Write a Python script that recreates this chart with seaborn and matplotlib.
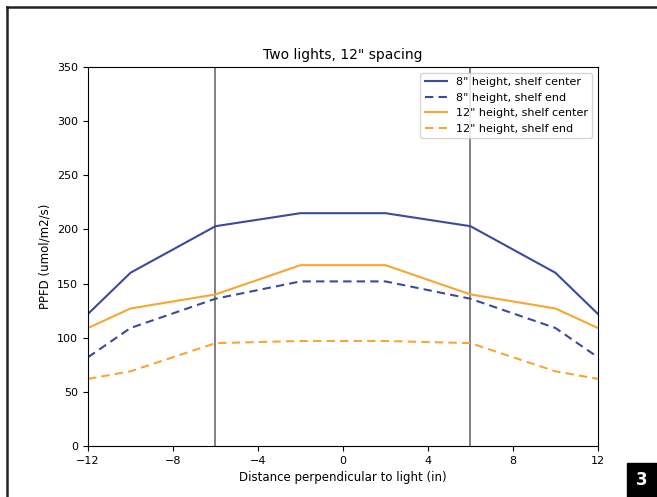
import numpy as np
import pandas as pd
import seaborn as sns
from matplotlib import pyplot as plt
from matplotlib.lines import Line2D
from matplotlib.patches import Rectangle

distance = [-12, -10, -6, -2, 2, 6, 10, 12]
center_8 = [122, 160, 203, 215, 215, 203, 160, 122]
end_8 = [82, 109, 136, 152, 152, 136, 109, 82]
center_12 = [109, 127, 140, 167, 167, 140, 127, 109]
end_12 = [62, 69, 95, 97, 97, 95, 69, 62]
series_names = [
    '8" height, shelf center',
    '8" height, shelf end',
    '12" height, shelf center',
    '12" height, shelf end',
]
light_positions = [-6, 6]

rows = []
for name, vals in zip(series_names, [center_8, end_8, center_12, end_12]):
    for x, y in zip(distance, vals):
        rows.append({"distance": x, "ppfd": y, "series": name})
df = pd.DataFrame(rows)

blue = "#3b4a9c"
orange = "#f7a634"
palette = {series_names[0]: blue, series_names[1]: blue,
           series_names[2]: orange, series_names[3]: orange}
dashes = {series_names[0]: "", series_names[1]: (4, 2.5),
          series_names[2]: "", series_names[3]: (4, 2.5)}

fig = plt.figure(figsize=(6.57, 4.97), dpi=100)
ax = fig.add_axes([0.134, 0.1026, 0.776, 0.7626])

for xv in light_positions:
    ax.axvline(xv, color="#777777", lw=1.3, zorder=1)

sns.lineplot(data=df, x="distance", y="ppfd", hue="series", style="series",
             palette=palette, dashes=dashes, hue_order=series_names,
             style_order=series_names, lw=1.5, ax=ax)

ax.set_xlim(-12, 12)
ax.set_ylim(0, 350)
ax.set_xticks([-12, -8, -4, 0, 4, 8, 12])
ax.set_yticks(np.arange(0, 351, 50))
ax.tick_params(labelsize=8)
ax.set_xlabel("Distance perpendicular to light (in)", fontsize=8.5)
ax.set_ylabel("PPFD (umol/m2/s)", fontsize=8.5)
ax.set_title('Two lights, 12" spacing', fontsize=10)
ax.legend(loc="upper right", fontsize=8, title=None)

# figure border and panel number
fig.add_artist(Line2D([7 / 657, 1.0], [1 - 7 / 497, 1 - 7 / 497],
                      transform=fig.transFigure, color="#222222", lw=1.8))
fig.add_artist(Line2D([7 / 657, 7 / 657], [0.0, 1 - 7 / 497],
                      transform=fig.transFigure, color="#222222", lw=1.8))
fig.add_artist(Rectangle((627 / 657, 0), 30 / 657, 34 / 497,
                         transform=fig.transFigure, color="black"))
fig.text(642 / 657, 17 / 497, "3", color="white", fontsize=12,
         fontweight="bold", ha="center", va="center")

fig.savefig("out.png", dpi=100)
